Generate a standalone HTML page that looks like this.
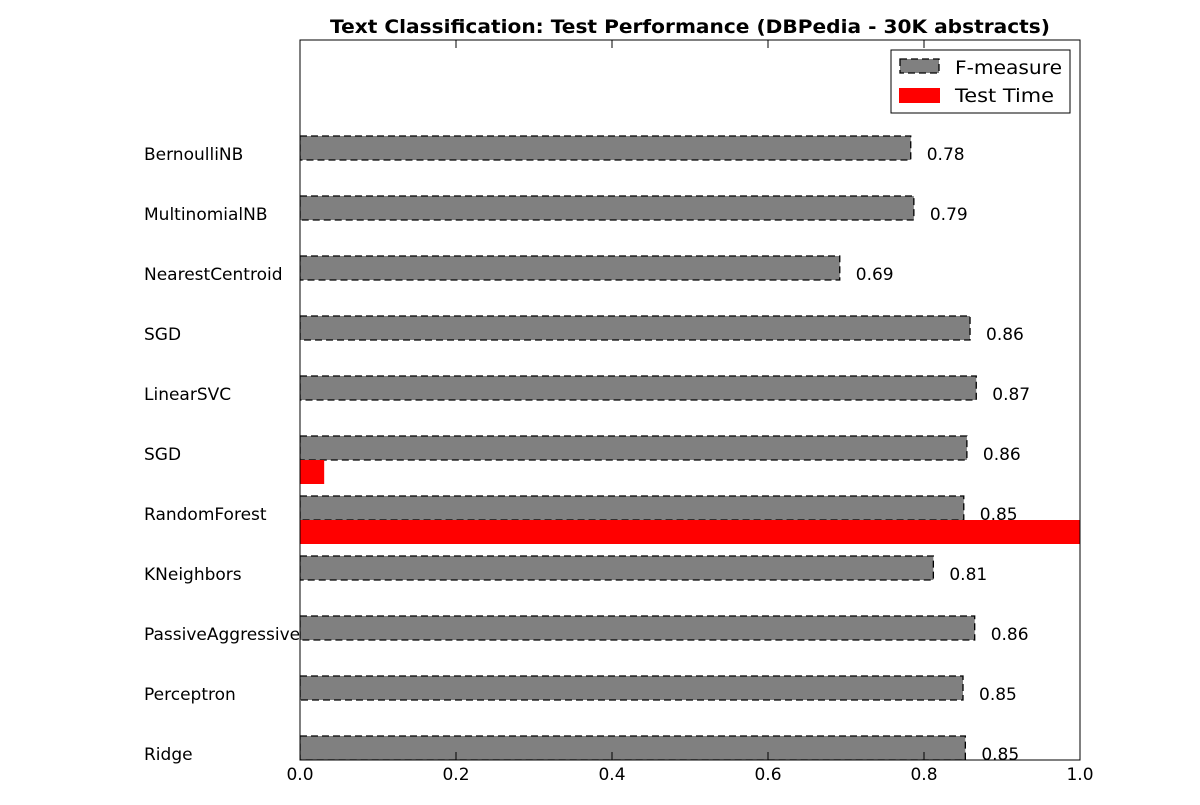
<!DOCTYPE html>
<html><head><meta charset="utf-8"><style>
body{margin:0;background:#fff;}
svg text{font-family:"DejaVu Sans","Liberation Sans",sans-serif;}
</style></head><body>
<svg id="c" width="1200" height="800" xmlns="http://www.w3.org/2000/svg">
<defs><clipPath id="clip"><rect x="300" y="40" width="780" height="720"/></clipPath></defs>
<rect width="1200" height="800" fill="#fff"/>
<text x="690" y="33" text-anchor="middle" font-size="19" font-weight="bold" textLength="720" lengthAdjust="spacingAndGlyphs">Text Classification: Test Performance (DBPedia - 30K abstracts)</text>
<g id="bars" clip-path="url(#clip)"></g>
<g id="labels"></g>
<rect x="300" y="40" width="780" height="720" fill="none" stroke="#000" stroke-width="1"/>
<g id="axis"></g>
<g>
<rect x="891" y="50" width="179" height="63" fill="#fff" stroke="#000"/>
<rect x="900" y="59" width="39" height="14" fill="#808080" stroke="#000" stroke-width="1.3" stroke-dasharray="7,4"/>
<text x="955" y="74" font-size="19" textLength="107" lengthAdjust="spacingAndGlyphs">F-measure</text>
<rect x="899" y="88" width="41" height="15" fill="#ff0000"/>
<text x="955" y="102" font-size="19" textLength="99" lengthAdjust="spacingAndGlyphs">Test Time</text>
</g>
</svg>
<script>
const categories=["BernoulliNB","MultinomialNB","NearestCentroid","SGD","LinearSVC","SGD","RandomForest","KNeighbors","PassiveAggressive","Perceptron","Ridge"];
const fmeasure=[0.783,0.787,0.692,0.859,0.867,0.855,0.851,0.812,0.865,0.850,0.853];
const fLabels=["0.78","0.79","0.69","0.86","0.87","0.86","0.85","0.81","0.86","0.85","0.85"];
const testTime=[0.0005,0.0005,0.0005,0.0005,0.0005,0.031,1.0,0.0005,0.0005,0.0005,0.0005];
const xTicks=[0,0.2,0.4,0.6,0.8,1.0];
const xTickLabels=["0.0","0.2","0.4","0.6","0.8","1.0"];
const NS="http://www.w3.org/2000/svg";
function xs(v){return 300+v*780;}
function ys(i){return 136+60*i;}
function mk(t,a,p){const e=document.createElementNS(NS,t);for(const k in a)e.setAttribute(k,a[k]);p.appendChild(e);return e;}
const g=document.getElementById('bars');
const gl=document.getElementById('labels');
categories.forEach((c,i)=>{
  const y=ys(i);
  const r=mk('rect',{x:xs(0),y:y,width:xs(fmeasure[i])-xs(0),height:24,fill:'#808080',stroke:'#000','stroke-width':1.3,'stroke-dasharray':'7,4'},g);
  
  
  const t=mk('rect',{x:xs(0),y:y+24,width:Math.max(0.5,xs(testTime[i])-xs(0)),height:24,fill:'#ff0000'},g);
  
  
  const v=mk('text',{x:xs(fmeasure[i])+16,y:y+24,'font-size':17},gl);
  v.textContent=fLabels[i];
  
  
  const l=mk('text',{x:144,y:y+24,'font-size':17},gl);
  l.textContent=c;
  
  
});
const a=document.getElementById('axis');
xTicks.forEach((v,i)=>{
  const x=xs(v);
  mk('line',{x1:x,x2:x,y1:760,y2:752,stroke:'#000'},a);
  mk('line',{x1:x,x2:x,y1:40,y2:48,stroke:'#000'},a);
  const t=mk('text',{x:x,y:780,'font-size':17,'text-anchor':'middle'},a);
  t.textContent=xTickLabels[i];
  
  
});
</script>
</body></html>
